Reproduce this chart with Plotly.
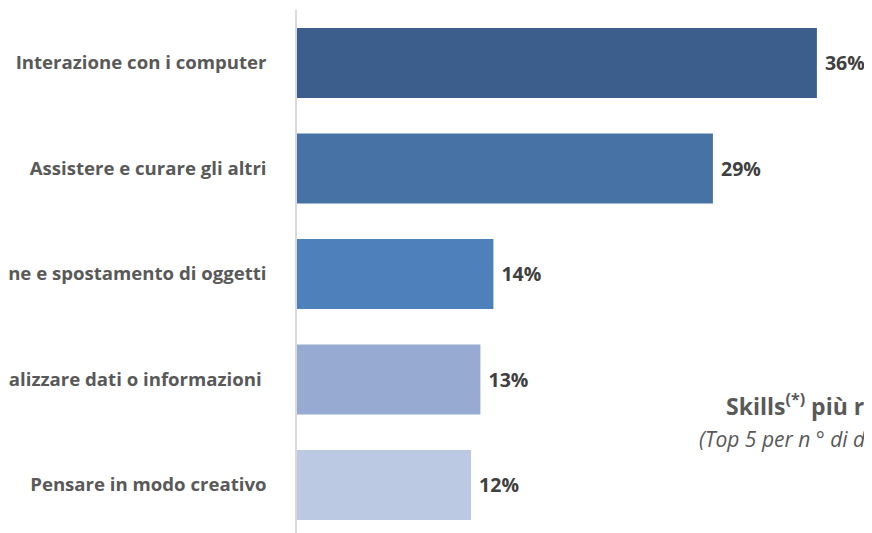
import plotly.graph_objects as go

# skill categories (top to bottom) and share of mentions (%)
skills = [
    "Interazione con i computer",
    "Assistere e curare gli altri",
    "Manipolazione e spostamento di oggetti",
    "Analizzare dati o informazioni ",
    "Pensare in modo creativo",
]
shares = [36.0, 28.8, 13.6, 12.7, 12.05]
bar_colors = ["#3B5E8C", "#4672A6", "#4E80BC", "#97ABD2", "#BCC9E2"]

title = "Skills<sup>(*)</sup> più richieste"
subtitle = "<i>(Top 5 per n ° di dipendenti)</i>"

fig = go.Figure()
fig.add_trace(go.Bar(
    y=skills,
    x=shares,
    orientation="h",
    marker=dict(color=bar_colors, line=dict(width=0)),
    width=0.663,
    text=[f"\u00a0{round(v):.0f}%" for v in shares],
    textposition="outside",
    textfont=dict(family="Open Sans", size=19.5, color="#404040", weight="bold"),
    cliponaxis=False,
))

# page body has an 8px margin, so margins are shifted by -8px
fig.update_layout(
    width=872, height=533,
    margin=dict(l=289, r=0, t=2, b=0),
    paper_bgcolor="white", plot_bgcolor="white",
    showlegend=False,
    font=dict(family="Open Sans", color="#595959"),
    xaxis=dict(range=[0, 40.37], visible=False, fixedrange=True),
    yaxis=dict(
        range=[4.531, -0.502],
        showline=True, linecolor="#D9D9D9", linewidth=1.5,
        showgrid=False, zeroline=False,
        ticks="", ticklabelstandoff=25,
        tickfont=dict(family="Open Sans", size=18.6, color="#595959", weight="bold"),
        automargin=False,
    ),
    annotations=[
        dict(x=0.7324, y=0.2561, xref="paper", yref="paper", xanchor="left",
             yanchor="middle", text=f"<b>{title}</b>", showarrow=False,
             font=dict(family="Open Sans", size=23, color="#595959")),
        dict(x=0.686, y=0.192, xref="paper", yref="paper", xanchor="left",
             yanchor="middle", text=subtitle, showarrow=False,
             font=dict(family="Open Sans", size=21, color="#595959")),
    ],
)

fig.write_html("out.html")
